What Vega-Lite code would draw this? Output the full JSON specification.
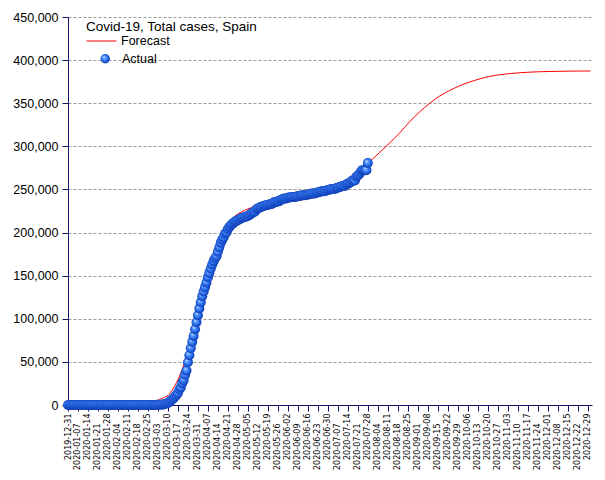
{
  "$schema": "https://vega.github.io/schema/vega-lite/v6.json",
  "width": 524,
  "height": 388,
  "autosize": "none",
  "padding": {"left": 68, "top": 17, "right": 13, "bottom": 75},
  "background": "white",
  "config": {"view": {"stroke": null}, "font": "Liberation Sans", "axisX": {"labelOverlap": false}},
  "datasets": {
    "forecast": [
      {"date": "2019-12-31", "cases": 0},
      {"date": "2020-01-31", "cases": 0},
      {"date": "2020-02-15", "cases": 0},
      {"date": "2020-02-25", "cases": 1000},
      {"date": "2020-03-01", "cases": 3500},
      {"date": "2020-03-04", "cases": 6500},
      {"date": "2020-03-07", "cases": 8500},
      {"date": "2020-03-10", "cases": 11000},
      {"date": "2020-03-13", "cases": 17500},
      {"date": "2020-03-16", "cases": 26000},
      {"date": "2020-03-19", "cases": 37000},
      {"date": "2020-03-22", "cases": 51000},
      {"date": "2020-03-25", "cases": 67000},
      {"date": "2020-03-28", "cases": 85000},
      {"date": "2020-03-31", "cases": 104000},
      {"date": "2020-04-03", "cases": 123000},
      {"date": "2020-04-06", "cases": 141000},
      {"date": "2020-04-09", "cases": 158000},
      {"date": "2020-04-12", "cases": 172000},
      {"date": "2020-04-15", "cases": 185000},
      {"date": "2020-04-18", "cases": 198000},
      {"date": "2020-04-21", "cases": 209000},
      {"date": "2020-04-24", "cases": 216000},
      {"date": "2020-04-27", "cases": 220500},
      {"date": "2020-04-30", "cases": 223500},
      {"date": "2020-05-05", "cases": 227500},
      {"date": "2020-05-10", "cases": 230000},
      {"date": "2020-05-15", "cases": 232000},
      {"date": "2020-05-20", "cases": 233500},
      {"date": "2020-05-27", "cases": 235000},
      {"date": "2020-06-03", "cases": 236500},
      {"date": "2020-06-10", "cases": 237500},
      {"date": "2020-06-17", "cases": 239500},
      {"date": "2020-06-24", "cases": 242000},
      {"date": "2020-07-01", "cases": 246500},
      {"date": "2020-07-08", "cases": 252000},
      {"date": "2020-07-15", "cases": 259000},
      {"date": "2020-07-22", "cases": 268500},
      {"date": "2020-07-29", "cases": 281500},
      {"date": "2020-08-05", "cases": 292500},
      {"date": "2020-08-12", "cases": 303500},
      {"date": "2020-08-19", "cases": 315000},
      {"date": "2020-08-26", "cases": 328000},
      {"date": "2020-09-02", "cases": 339500},
      {"date": "2020-09-09", "cases": 349500},
      {"date": "2020-09-16", "cases": 358000},
      {"date": "2020-09-23", "cases": 364500},
      {"date": "2020-09-30", "cases": 370000},
      {"date": "2020-10-07", "cases": 374500},
      {"date": "2020-10-14", "cases": 378000},
      {"date": "2020-10-21", "cases": 381000},
      {"date": "2020-10-28", "cases": 383000},
      {"date": "2020-11-04", "cases": 384300},
      {"date": "2020-11-11", "cases": 385300},
      {"date": "2020-11-18", "cases": 386000},
      {"date": "2020-11-25", "cases": 386500},
      {"date": "2020-12-02", "cases": 386800},
      {"date": "2020-12-09", "cases": 387000},
      {"date": "2020-12-16", "cases": 387200},
      {"date": "2020-12-23", "cases": 387300},
      {"date": "2020-12-31", "cases": 387400}
    ],
    "actual": [
      {"date": "2019-12-31", "cases": 0},
      {"date": "2020-01-01", "cases": 0}, {"date": "2020-01-02", "cases": 0}, {"date": "2020-01-03", "cases": 0}, {"date": "2020-01-04", "cases": 0}, {"date": "2020-01-05", "cases": 0}, {"date": "2020-01-06", "cases": 0}, {"date": "2020-01-07", "cases": 0}, {"date": "2020-01-08", "cases": 0}, {"date": "2020-01-09", "cases": 0}, {"date": "2020-01-10", "cases": 0},
      {"date": "2020-01-11", "cases": 0}, {"date": "2020-01-12", "cases": 0}, {"date": "2020-01-13", "cases": 0}, {"date": "2020-01-14", "cases": 0}, {"date": "2020-01-15", "cases": 0}, {"date": "2020-01-16", "cases": 0}, {"date": "2020-01-17", "cases": 0}, {"date": "2020-01-18", "cases": 0}, {"date": "2020-01-19", "cases": 0}, {"date": "2020-01-20", "cases": 0},
      {"date": "2020-01-21", "cases": 0}, {"date": "2020-01-22", "cases": 0}, {"date": "2020-01-23", "cases": 0}, {"date": "2020-01-24", "cases": 0}, {"date": "2020-01-25", "cases": 0}, {"date": "2020-01-26", "cases": 0}, {"date": "2020-01-27", "cases": 0}, {"date": "2020-01-28", "cases": 0}, {"date": "2020-01-29", "cases": 0}, {"date": "2020-01-30", "cases": 0},
      {"date": "2020-01-31", "cases": 1},
      {"date": "2020-02-01", "cases": 1}, {"date": "2020-02-02", "cases": 1}, {"date": "2020-02-03", "cases": 1}, {"date": "2020-02-04", "cases": 1}, {"date": "2020-02-05", "cases": 1}, {"date": "2020-02-06", "cases": 1}, {"date": "2020-02-07", "cases": 1}, {"date": "2020-02-08", "cases": 2},
      {"date": "2020-02-09", "cases": 2}, {"date": "2020-02-10", "cases": 2}, {"date": "2020-02-11", "cases": 2}, {"date": "2020-02-12", "cases": 2}, {"date": "2020-02-13", "cases": 2}, {"date": "2020-02-14", "cases": 2}, {"date": "2020-02-15", "cases": 2}, {"date": "2020-02-16", "cases": 2},
      {"date": "2020-02-17", "cases": 2}, {"date": "2020-02-18", "cases": 2}, {"date": "2020-02-19", "cases": 2}, {"date": "2020-02-20", "cases": 2}, {"date": "2020-02-21", "cases": 2}, {"date": "2020-02-22", "cases": 2}, {"date": "2020-02-23", "cases": 2}, {"date": "2020-02-24", "cases": 6},
      {"date": "2020-02-25", "cases": 13}, {"date": "2020-02-26", "cases": 15}, {"date": "2020-02-27", "cases": 32}, {"date": "2020-02-28", "cases": 45}, {"date": "2020-02-29", "cases": 84},
      {"date": "2020-03-01", "cases": 120}, {"date": "2020-03-02", "cases": 165}, {"date": "2020-03-03", "cases": 222}, {"date": "2020-03-04", "cases": 259}, {"date": "2020-03-05", "cases": 400},
      {"date": "2020-03-06", "cases": 500}, {"date": "2020-03-07", "cases": 673}, {"date": "2020-03-08", "cases": 1073}, {"date": "2020-03-09", "cases": 1695}, {"date": "2020-03-10", "cases": 2277},
      {"date": "2020-03-11", "cases": 3146}, {"date": "2020-03-12", "cases": 5232}, {"date": "2020-03-13", "cases": 6391}, {"date": "2020-03-14", "cases": 7798}, {"date": "2020-03-15", "cases": 9942},
      {"date": "2020-03-16", "cases": 11748}, {"date": "2020-03-17", "cases": 13910}, {"date": "2020-03-18", "cases": 17963}, {"date": "2020-03-19", "cases": 20410}, {"date": "2020-03-20", "cases": 25374},
      {"date": "2020-03-21", "cases": 28768}, {"date": "2020-03-22", "cases": 35136}, {"date": "2020-03-23", "cases": 39885}, {"date": "2020-03-24", "cases": 49515}, {"date": "2020-03-25", "cases": 57786},
      {"date": "2020-03-26", "cases": 65719}, {"date": "2020-03-27", "cases": 73235}, {"date": "2020-03-28", "cases": 80110}, {"date": "2020-03-29", "cases": 87956}, {"date": "2020-03-30", "cases": 95923},
      {"date": "2020-03-31", "cases": 104118},
      {"date": "2020-04-01", "cases": 112065}, {"date": "2020-04-02", "cases": 119199}, {"date": "2020-04-03", "cases": 126168}, {"date": "2020-04-04", "cases": 131646}, {"date": "2020-04-05", "cases": 136675},
      {"date": "2020-04-06", "cases": 141942}, {"date": "2020-04-07", "cases": 148220}, {"date": "2020-04-08", "cases": 153222}, {"date": "2020-04-09", "cases": 158273}, {"date": "2020-04-10", "cases": 163027},
      {"date": "2020-04-11", "cases": 166831}, {"date": "2020-04-12", "cases": 170099}, {"date": "2020-04-13", "cases": 172541}, {"date": "2020-04-14", "cases": 177644}, {"date": "2020-04-15", "cases": 182816},
      {"date": "2020-04-16", "cases": 188068}, {"date": "2020-04-17", "cases": 191726}, {"date": "2020-04-18", "cases": 194416}, {"date": "2020-04-19", "cases": 198674}, {"date": "2020-04-20", "cases": 200210},
      {"date": "2020-04-21", "cases": 204178}, {"date": "2020-04-22", "cases": 206500}, {"date": "2020-04-23", "cases": 208400}, {"date": "2020-04-24", "cases": 210000}, {"date": "2020-04-25", "cases": 211500},
      {"date": "2020-04-26", "cases": 212900}, {"date": "2020-04-27", "cases": 213400}, {"date": "2020-04-28", "cases": 214500}, {"date": "2020-04-29", "cases": 215200}, {"date": "2020-04-30", "cases": 216600},
      {"date": "2020-05-01", "cases": 217100}, {"date": "2020-05-02", "cases": 217500}, {"date": "2020-05-03", "cases": 218000}, {"date": "2020-05-04", "cases": 218600}, {"date": "2020-05-05", "cases": 219300},
      {"date": "2020-05-06", "cases": 220300}, {"date": "2020-05-07", "cases": 221400}, {"date": "2020-05-08", "cases": 222900}, {"date": "2020-05-09", "cases": 223600}, {"date": "2020-05-10", "cases": 224400},
      {"date": "2020-05-11", "cases": 227400}, {"date": "2020-05-12", "cases": 228000}, {"date": "2020-05-13", "cases": 228700}, {"date": "2020-05-14", "cases": 229500}, {"date": "2020-05-15", "cases": 230200},
      {"date": "2020-05-16", "cases": 230700}, {"date": "2020-05-17", "cases": 231400}, {"date": "2020-05-18", "cases": 231600}, {"date": "2020-05-19", "cases": 232000}, {"date": "2020-05-20", "cases": 232600},
      {"date": "2020-05-21", "cases": 233000}, {"date": "2020-05-22", "cases": 233500}, {"date": "2020-05-23", "cases": 234800}, {"date": "2020-05-24", "cases": 235300}, {"date": "2020-05-25", "cases": 235400},
      {"date": "2020-05-26", "cases": 236300}, {"date": "2020-05-27", "cases": 236300}, {"date": "2020-05-28", "cases": 237900}, {"date": "2020-05-29", "cases": 238600}, {"date": "2020-05-30", "cases": 239200},
      {"date": "2020-05-31", "cases": 239400},
      {"date": "2020-06-01", "cases": 239600}, {"date": "2020-06-02", "cases": 240300}, {"date": "2020-06-03", "cases": 240700}, {"date": "2020-06-04", "cases": 240980}, {"date": "2020-06-05", "cases": 241300},
      {"date": "2020-06-06", "cases": 241300}, {"date": "2020-06-07", "cases": 241300}, {"date": "2020-06-08", "cases": 241700}, {"date": "2020-06-09", "cases": 242000}, {"date": "2020-06-10", "cases": 242300},
      {"date": "2020-06-11", "cases": 242700}, {"date": "2020-06-12", "cases": 243200}, {"date": "2020-06-13", "cases": 243200}, {"date": "2020-06-14", "cases": 243200}, {"date": "2020-06-15", "cases": 243600},
      {"date": "2020-06-16", "cases": 244100}, {"date": "2020-06-17", "cases": 244300}, {"date": "2020-06-18", "cases": 245000}, {"date": "2020-06-19", "cases": 245300}, {"date": "2020-06-20", "cases": 245300},
      {"date": "2020-06-21", "cases": 245300}, {"date": "2020-06-22", "cases": 246300}, {"date": "2020-06-23", "cases": 246500}, {"date": "2020-06-24", "cases": 247000}, {"date": "2020-06-25", "cases": 247500},
      {"date": "2020-06-26", "cases": 247900}, {"date": "2020-06-27", "cases": 247900}, {"date": "2020-06-28", "cases": 247900}, {"date": "2020-06-29", "cases": 248800}, {"date": "2020-06-30", "cases": 249300},
      {"date": "2020-07-01", "cases": 249700}, {"date": "2020-07-02", "cases": 250100}, {"date": "2020-07-03", "cases": 250500}, {"date": "2020-07-04", "cases": 250500}, {"date": "2020-07-05", "cases": 250500},
      {"date": "2020-07-06", "cases": 251800}, {"date": "2020-07-07", "cases": 252100}, {"date": "2020-07-08", "cases": 252500}, {"date": "2020-07-09", "cases": 253100}, {"date": "2020-07-10", "cases": 253900},
      {"date": "2020-07-11", "cases": 253900}, {"date": "2020-07-12", "cases": 253900}, {"date": "2020-07-13", "cases": 255900}, {"date": "2020-07-14", "cases": 256600}, {"date": "2020-07-15", "cases": 257500},
      {"date": "2020-07-16", "cases": 258300}, {"date": "2020-07-17", "cases": 260300}, {"date": "2020-07-18", "cases": 260300}, {"date": "2020-07-19", "cases": 260300}, {"date": "2020-07-20", "cases": 264800},
      {"date": "2020-07-21", "cases": 266200}, {"date": "2020-07-22", "cases": 267600}, {"date": "2020-07-23", "cases": 270200}, {"date": "2020-07-24", "cases": 272400}, {"date": "2020-07-25", "cases": 272400},
      {"date": "2020-07-26", "cases": 272400}, {"date": "2020-07-27", "cases": 272400}, {"date": "2020-07-28", "cases": 280600}
    ]
  },
  "encoding": {
    "x": {
      "field": "date", "type": "temporal",
      "scale": {"type": "utc", "domain": [1577750400000, 1609459200000]},
      "axis": {
        "title": null, "grid": false, "format": "%Y-%m-%d", "tickCount": 100,
        "values": [1577750400000, 1578355200000, 1578960000000, 1579564800000, 1580169600000, 1580774400000, 1581379200000, 1581984000000, 1582588800000, 1583193600000, 1583798400000, 1584403200000, 1585008000000, 1585612800000, 1586217600000, 1586822400000, 1587427200000, 1588032000000, 1588636800000, 1589241600000, 1589846400000, 1590451200000, 1591056000000, 1591660800000, 1592265600000, 1592870400000, 1593475200000, 1594080000000, 1594684800000, 1595289600000, 1595894400000, 1596499200000, 1597104000000, 1597708800000, 1598313600000, 1598918400000, 1599523200000, 1600128000000, 1600732800000, 1601337600000, 1601942400000, 1602547200000, 1603152000000, 1603756800000, 1604361600000, 1604966400000, 1605571200000, 1606176000000, 1606780800000, 1607385600000, 1607990400000, 1608595200000, 1609200000000],
        "labelAngle": -90, "labelFont": "DejaVu Sans", "labelFontSize": 8, "labelColor": "#000000",
        "labelPadding": {"condition": {"test": "round((+datum.value - 1577750400000) / 604800000) % 2 == 1", "value": 12}, "value": 2},
        "labelOverlap": false, "labelFlush": false, "labelBound": false, "labelSeparation": 0,
        "domainColor": "#10106a", "tickColor": "#10106a", "tickSize": 6
      }
    },
    "y": {
      "field": "cases", "type": "quantitative",
      "scale": {"domain": [0, 450000], "nice": false},
      "axis": {
        "title": null, "format": ",d",
        "values": [0, 50000, 100000, 150000, 200000, 250000, 300000, 350000, 400000, 450000],
        "labelFont": "Liberation Sans", "labelFontSize": 12.5, "labelColor": "#000000", "labelPadding": 4,
        "domainColor": "#10106a", "tickColor": "#10106a", "tickSize": 6,
        "grid": true, "gridColor": "#9a9a9a", "gridDash": [3, 2], "gridWidth": 1
      }
    }
  },
  "layer": [
    {
      "data": {"name": "forecast"},
      "mark": {"type": "line", "strokeWidth": 1, "interpolate": "monotone"},
      "encoding": {
        "stroke": {
          "datum": "Forecast", "type": "nominal",
          "scale": {"range": ["#ff0000"]},
          "legend": {
            "title": "Covid-19, Total cases, Spain", "orient": "none", "legendX": 18, "legendY": 3,
            "symbolType": "stroke", "symbolSize": 900, "symbolStrokeWidth": 1, "symbolStrokeColor": "#ff0000",
            "titleFont": "Liberation Sans", "titleFontSize": 13.5, "titleFontWeight": "normal", "titleColor": "#000000",
            "labelFont": "Liberation Sans", "labelFontSize": 12.5, "labelColor": "#000000", "labelOffset": 4,
            "titlePadding": -8, "padding": 0
          }
        }
      }
    },
    {
      "data": {"name": "actual"},
      "mark": {
        "type": "point", "filled": true, "size": 100, "strokeWidth": 0, "opacity": 1,
        "fill": {"gradient": "radial", "x1": 0.35, "y1": 0.3, "r1": 0, "x2": 0.5, "y2": 0.5, "r2": 0.55,
          "stops": [{"offset": 0, "color": "#cfe6ff"}, {"offset": 0.3, "color": "#5b9bff"}, {"offset": 0.7, "color": "#1d5ee0"}, {"offset": 1, "color": "#0c2f9a"}]}
      },
      "encoding": {
        "shape": {
          "datum": "Actual", "type": "nominal",
          "scale": {"range": ["circle"]},
          "legend": {
            "title": null, "orient": "none", "legendX": 31, "legendY": 35.5,
            "symbolSize": 90, "symbolStrokeWidth": 0,
            "labelFont": "Liberation Sans", "labelFontSize": 12.5, "labelColor": "#000000", "labelOffset": 10.5,
            "padding": 0,
            "symbolFillColor": "#2f72ec"
          }
        }
      }
    }
  ]
}
